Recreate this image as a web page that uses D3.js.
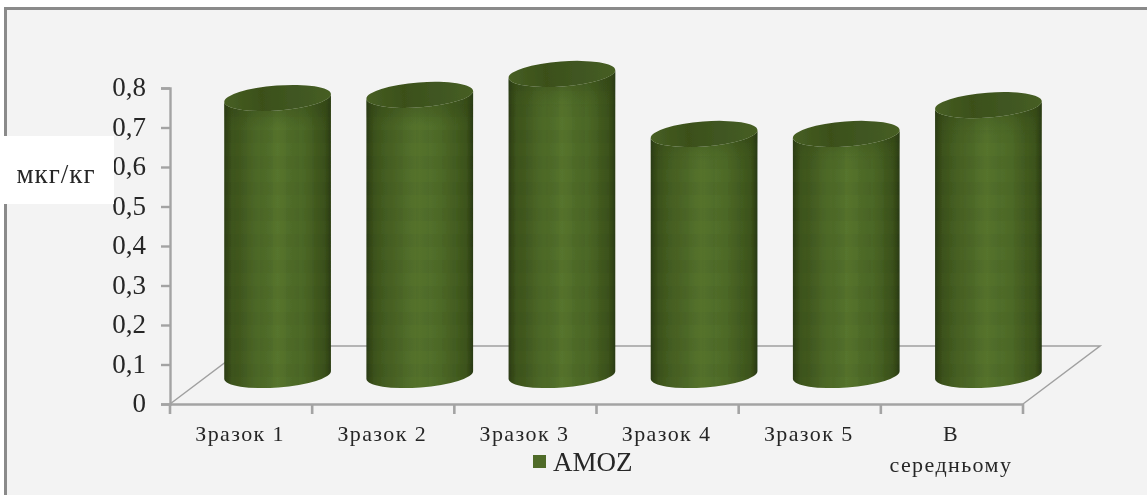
<!DOCTYPE html>
<html><head><meta charset="utf-8">
<script src="https://cdnjs.cloudflare.com/ajax/libs/d3/7.8.5/d3.min.js"></script>
<style>html,body{margin:0;padding:0;background:#fff;overflow:hidden}svg{display:block}text{font-family:"Liberation Serif",serif;fill:#262626}</style>
</head><body><svg id="c" width="1147" height="495"></svg>
<script>
const categories=["Зразок 1","Зразок 2","Зразок 3","Зразок 4","Зразок 5","В середньому"];
const amoz=[0.705,0.713,0.766,0.614,0.614,0.687];
const yTicks=[0,0.1,0.2,0.3,0.4,0.5,0.6,0.7,0.8];
const seriesName="AMOZ";
const unitLabel="мкг/кг";

const svg=d3.select("#c");
const defs=svg.append("defs");
const x=d3.scaleBand().domain(categories).range([170,1023]).padding(0);
const y=d3.scaleLinear().domain([0,0.8]).range([404,88]);
const gray="#a3a3a3";
const depthX=77,depthY=58,rx=53.5,ry=12.5,tilt=-4.3;
const rad=tilt*Math.PI/180,dxE=rx*Math.cos(rad),dyE=rx*Math.sin(rad);
const shiftX=36.5,shiftY=27.5,baseLift=1.5;

const sideGrad=defs.append("linearGradient").attr("id","side");
[[0,"#2c3d13"],[0.07,"#3d541c"],[0.28,"#4b6626"],[0.5,"#56742d"],[0.74,"#4c6826"],[0.94,"#3c531b"],[1,"#2a3b12"]]
 .forEach(s=>sideGrad.append("stop").attr("offset",s[0]).attr("stop-color",s[1]));
const topGrad=defs.append("linearGradient").attr("id","topFill");
[[0,"#475f24"],[0.35,"#3b5019"],[0.6,"#3f5520"],[1,"#465e22"]]
 .forEach(s=>topGrad.append("stop").attr("offset",s[0]).attr("stop-color",s[1]));
const shade=defs.append("linearGradient").attr("id","rim").attr("x1",0).attr("x2",0).attr("y1",0).attr("y2",1);
[[0,"#2c3d13",0.45],[0.12,"#2c3d13",0],[1,"#2c3d13",0]]
 .forEach(s=>shade.append("stop").attr("offset",s[0]).attr("stop-color",s[1]).attr("stop-opacity",s[2]));
const band=defs.append("pattern").attr("id","band").attr("patternUnits","userSpaceOnUse").attr("width",26).attr("height",26);
band.append("rect").attr("width",26).attr("height",13).attr("fill","#000").attr("opacity",0.022);
band.append("rect").attr("width",13).attr("height",26).attr("fill","#000").attr("opacity",0.018);
defs.append("filter").attr("id","soft").append("feGaussianBlur").attr("stdDeviation",0.7);
defs.append("filter").attr("id","softT").append("feGaussianBlur").attr("stdDeviation",0.3);

svg.append("rect").attr("x",4).attr("y",7).attr("width",1143).attr("height",488).attr("fill","#f3f3f3");
svg.append("path").attr("d","M5.5,495V8.5H1147").attr("fill","none").attr("stroke","#8a8a8a").attr("stroke-width",3);

const x0=x.range()[0],x1=x.range()[1],y0=y(0);
svg.append("path").attr("d",`M${x0},${y0}L${x0+depthX},${y0-depthY}H${x1+depthX}L${x1},${y0}`)
 .attr("fill","none").attr("stroke","#a0a0a0").attr("stroke-width",1.5);

const yAxis=d3.axisLeft(y).tickValues(yTicks).tickSize(9).tickPadding(15)
 .tickFormat(d=>d===0?"0":d3.format(".1f")(d).replace(".",","));
const gy=svg.append("g").attr("transform",`translate(${x0},0)`).call(yAxis);
gy.selectAll("path,line").attr("stroke",gray).attr("stroke-width",2.4);
gy.selectAll("text").attr("font-size",27).attr("fill","#2e2e2e").attr("dy","0.28em").attr("filter","url(#softT)");

const xAxis=d3.axisBottom(x).tickValues([]).tickSize(0);
const gx=svg.append("g").attr("transform",`translate(0,${y0})`).call(xAxis);
gx.select("path").attr("stroke",gray).attr("stroke-width",2.4);
const edges=categories.map(c=>x(c)).concat([x1]);
svg.append("g").selectAll("line").data(edges).join("line")
 .attr("x1",d=>d).attr("x2",d=>d).attr("y1",y0).attr("y2",y0+10)
 .attr("stroke",gray).attr("stroke-width",2.6);

svg.append("rect").attr("x",4).attr("y",136).attr("width",110).attr("height",68).attr("fill","#fff");
svg.append("text").attr("x",56).attr("y",183).attr("text-anchor","middle").attr("font-size",27).attr("letter-spacing",1).attr("filter","url(#softT)").text(unitLabel);

const cyl=svg.append("g").attr("filter","url(#soft)").selectAll("g").data(categories).join("g");
const cxOf=c=>x(c)+x.bandwidth()/2+shiftX;
const baseY=y0-shiftY-baseLift;
const bodyPath=(c,v)=>{const cx=cxOf(c),t=y(v)-shiftY;
 return `M${cx-dxE},${t-dyE}L${cx-dxE},${baseY-dyE}A${rx},${ry} ${tilt} 0 0 ${cx+dxE},${baseY+dyE}L${cx+dxE},${t+dyE}A${rx},${ry} ${tilt} 0 1 ${cx-dxE},${t-dyE}Z`;};
cyl.append("path").attr("d",(c,i)=>bodyPath(c,amoz[i])).attr("fill","url(#side)");
cyl.append("path").attr("d",(c,i)=>bodyPath(c,amoz[i])).attr("fill","url(#band)");
cyl.append("path").attr("d",(c,i)=>bodyPath(c,amoz[i])).attr("fill","url(#rim)");
cyl.append("ellipse").attr("cx",0).attr("cy",0).attr("rx",rx).attr("ry",ry)
 .attr("transform",(c,i)=>`translate(${cxOf(c)},${y(amoz[i])-shiftY}) rotate(${tilt})`)
 .attr("fill","url(#topFill)");

const labels=svg.append("g").selectAll("text").data(categories).join("text")
 .attr("text-anchor","middle").attr("font-size",22).attr("letter-spacing",1.4).attr("filter","url(#softT)")
 .attr("transform",c=>`translate(${x(c)+x.bandwidth()/2-1},${y0+37})`);
labels.each(function(c){
 const parts=c.startsWith("В ")?c.split(" "):[c];
 d3.select(this).selectAll("tspan").data(parts).join("tspan").attr("x",0).attr("dy",(d,i)=>i?31:0).text(d=>d);
});

svg.append("rect").attr("x",533).attr("y",455).attr("width",13).attr("height",13).attr("fill","#4f6b28");
svg.append("text").attr("x",553).attr("y",471).attr("font-size",27).attr("filter","url(#softT)").text(seriesName);
</script></body></html>
